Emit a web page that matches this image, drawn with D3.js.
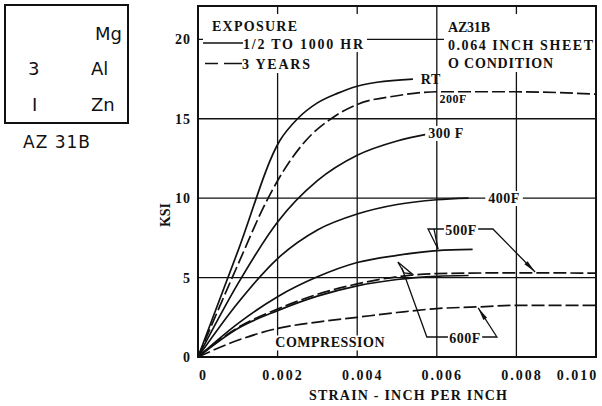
<!DOCTYPE html>
<html>
<head>
<meta charset="utf-8">
<script src="https://cdn.jsdelivr.net/npm/d3@7"></script>
<style>
body { margin: 0; background: #fff; }
text { fill: #111; }
</style>
</head>
<body>
<svg id="chart" width="602" height="406"></svg>
<script>
// stress-strain curves (strain in/in, stress ksi)
var rtStrain = [0, 0.001, 0.00205, 0.0025, 0.003, 0.0035, 0.004, 0.0045, 0.0054];
var rtKsi    = [0, 6.65, 13.6, 15.0, 16.0, 16.6, 17.05, 17.3, 17.5];
var f200Strain = [0, 0.001, 0.0017, 0.002, 0.0027, 0.0034, 0.004, 0.005, 0.006, 0.008, 0.010];
var f200Ksi    = [0, 5.8, 9.7, 11.1, 13.6, 15.1, 15.9, 16.45, 16.7, 16.7, 16.55];
var f300Strain = [0, 0.001, 0.002, 0.003, 0.004, 0.005, 0.0058];
var f300Ksi    = [0, 4.6, 8.5, 11.1, 12.7, 13.6, 14.05];
var f400Strain = [0, 0.001, 0.002, 0.003, 0.004, 0.005, 0.006, 0.0068];
var f400Ksi    = [0, 3.4, 6.2, 8.0, 9.0, 9.6, 9.9, 10.0];
var f500Strain = [0, 0.001, 0.002, 0.003, 0.004, 0.005, 0.006, 0.0069];
var f500Ksi    = [0, 2.1, 3.8, 5.05, 5.95, 6.4, 6.7, 6.78];
var f500yStrain = [0, 0.001, 0.002, 0.003, 0.004, 0.005, 0.006, 0.008, 0.010];
var f500yKsi    = [0, 1.85, 3.02, 3.95, 4.6, 5.05, 5.25, 5.3, 5.28];
var f600Strain = [0, 0.001, 0.002, 0.003, 0.004, 0.005, 0.006, 0.0068];
var f600Ksi    = [0, 1.8, 2.92, 3.83, 4.48, 4.88, 5.08, 5.13];
var f600yStrain = [0, 0.001, 0.002, 0.003, 0.004, 0.005, 0.006, 0.007, 0.008, 0.010];
var f600yKsi    = [0, 1.05, 1.8, 2.2, 2.5, 2.8, 3.05, 3.15, 3.25, 3.25];

var xTicks = [0, 0.002, 0.004, 0.006, 0.008, 0.010];
var yTicks = [0, 5, 10, 15, 20];

// labels for the curves, anchored in data units
var curveNames  = ["RT", "200F", "300 F", "400F", "500F", "600F", "COMPRESSION"];
var nameStrain  = [0.00585, 0.00641, 0.00623, 0.00769, 0.00661, 0.00671, 0.00332];
var nameKsi     = [17.47, 16.25, 14.1, 10.0, 8.0, 1.2, 0.91];

var series = [
  {x: rtStrain, y: rtKsi, dash: null},
  {x: f200Strain, y: f200Ksi, dash: "13,4"},
  {x: f300Strain, y: f300Ksi, dash: null},
  {x: f400Strain, y: f400Ksi, dash: null},
  {x: f500Strain, y: f500Ksi, dash: null},
  {x: f500yStrain, y: f500yKsi, dash: "13,4"},
  {x: f600Strain, y: f600Ksi, dash: null},
  {x: f600yStrain, y: f600yKsi, dash: "13,4"}
];

var svg = d3.select("#chart");
var serif = "'Liberation Serif', 'Times New Roman', serif";

//////////////////////
// alloy box at left
//////////////////////
svg.append("rect").attr("x", 5).attr("y", 5).attr("width", 123).attr("height", 118)
  .style("fill", "none").style("stroke", "#111").style("stroke-width", 2);
var boxText = [["Mg", 95, 40], ["3", 28, 75], ["Al", 91, 75], ["I", 32, 111], ["Zn", 91, 111]];
boxText.forEach(function(t) {
  svg.append("text").attr("x", t[1]).attr("y", t[2]).text(t[0])
    .style("font-family", "'DejaVu Sans', sans-serif").style("font-size", "18px");
});
svg.append("text").attr("x", 57).attr("y", 148).attr("text-anchor", "middle").text("AZ 31B")
  .style("font-family", "'DejaVu Sans', sans-serif").style("font-size", "17px").style("letter-spacing", "1px");

//////////////////////
// plot area
//////////////////////
var margin = {top: 6, left: 198},
    width = 398, height = 351;
var g = svg.append("g").attr("transform", "translate(" + margin.left + "," + margin.top + ")");

var x = d3.scaleLinear().domain([0, 0.010]).range([0, width]);
var y = d3.scaleLinear().domain([0, 22.1]).range([height, 0]);

// grid
g.selectAll(".vgrid").data(xTicks.slice(1, 5)).enter().append("line")
  .attr("x1", function(d) { return x(d); }).attr("x2", function(d) { return x(d); })
  .attr("y1", 0).attr("y2", height).style("stroke", "#111").style("stroke-width", 1.3);
g.selectAll(".hgrid").data(yTicks.slice(1)).enter().append("line")
  .attr("x1", 0).attr("x2", width)
  .attr("y1", function(d) { return y(d); }).attr("y2", function(d) { return y(d); })
  .style("stroke", "#111").style("stroke-width", 1.3);

// white patches behind the two text blocks at the top
g.append("rect").attr("x", 5).attr("y", 8).attr("width", 164).attr("height", 38).style("fill", "#fff");
g.append("rect").attr("x", 5).attr("y", 46).attr("width", 110).attr("height", 21).style("fill", "#fff");
g.append("rect").attr("x", 246).attr("y", 8).attr("width", 151).attr("height", 58).style("fill", "#fff");

// curves
var line = d3.line().x(function(d) { return x(d[0]); }).y(function(d) { return y(d[1]); })
  .curve(d3.curveMonotoneX);
series.forEach(function(s) {
  var pts = s.x.map(function(v, i) { return [v, s.y[i]]; });
  g.append("path").datum(pts).attr("d", line)
    .style("fill", "none").style("stroke", "#111").style("stroke-width", 1.7)
    .style("stroke-dasharray", s.dash);
});

// curve labels with white backing
curveNames.forEach(function(n, i) {
  var t = g.append("text").attr("x", x(nameStrain[i])).attr("y", y(nameKsi[i]))
    .attr("dy", "0.35em").attr("text-anchor", "middle").text(n)
    .style("font-family", serif).style("font-weight", "bold")
    .style("font-size", n == "200F" ? "12px" : "14px")
    .style("letter-spacing", n == "COMPRESSION" ? "0.5px" : "0.5px");
  if (n != "RT" && n != "200F") {
    var b = t.node().getBBox();
    g.insert("rect", function() { return t.node(); })
      .attr("x", b.x - 3).attr("y", b.y).attr("width", b.width + 6).attr("height", b.height)
      .style("fill", "#fff");
  }
});

// leader lines (data units)
var leaders = [
  {pts: [[0.00618, 8.06], [0.00578, 8.06], [0.00603, 6.80]], head: "none"},
  {pts: [[0.00593, 8.06], [0.00603, 6.80]], head: "none"},
  {pts: [[0.00704, 8.06], [0.00741, 8.06], [0.00847, 5.35]], head: "fill"},
  {pts: [[0.00628, 1.26], [0.00575, 1.26], [0.00512, 5.62]], head: "none"},
  {pts: [[0.00502, 5.98], [0.00538, 5.23], [0.00518, 5.29], [0.00502, 5.98]], head: "none"},
  {pts: [[0.00714, 1.26], [0.00751, 1.26], [0.00704, 3.09]], head: "fill"}
];
var plain = d3.line().x(function(d) { return x(d[0]); }).y(function(d) { return y(d[1]); });
leaders.forEach(function(l) {
  g.append("path").datum(l.pts).attr("d", plain)
    .style("fill", "none").style("stroke", "#111").style("stroke-width", 1.3);
  if (l.head == "fill") {
    var a = l.pts[l.pts.length - 2], b = l.pts[l.pts.length - 1];
    var tx = x(b[0]), ty = y(b[1]);
    var dx = tx - x(a[0]), dy = ty - y(a[1]);
    var len = Math.sqrt(dx * dx + dy * dy);
    var ux = dx / len, uy = dy / len;
    var bx = tx - ux * 13, by = ty - uy * 13;
    g.append("path")
      .attr("d", "M" + tx + "," + ty + "L" + (bx - uy * 2.2) + "," + (by + ux * 2.2) +
        "L" + (bx + uy * 2.2) + "," + (by - ux * 2.2) + "Z")
      .style("fill", "#111");
  }
});

// frame
g.append("rect").attr("width", width).attr("height", height)
  .style("fill", "none").style("stroke", "#111").style("stroke-width", 2);

// axes (labels only)
var yAxis = g.append("g").call(d3.axisLeft(y).tickValues(yTicks).tickSize(0).tickPadding(7));
yAxis.select(".domain").remove();
yAxis.selectAll("text").style("font-family", serif).style("font-weight", "bold")
  .style("font-size", "14px").style("letter-spacing", "1px").attr("fill", "#111");

var xAxis = g.append("g").attr("transform", "translate(0," + height + ")")
  .call(d3.axisBottom(x).tickValues(xTicks).tickSize(0).tickPadding(13)
    .tickFormat(function(d) { return d == 0 ? "0" : d3.format(".3f")(d); }));
xAxis.select(".domain").remove();
xAxis.selectAll("text").style("font-family", serif).style("font-weight", "bold")
  .style("font-size", "14px").style("letter-spacing", "2px").attr("fill", "#111")
  .attr("dx", function(d) { return d == 0.010 ? -19 : 5; });

// axis titles
svg.append("text").attr("x", 408).attr("y", 400).attr("text-anchor", "middle")
  .attr("textLength", 198).text("STRAIN - INCH PER INCH")
  .style("font-family", serif).style("font-weight", "bold").style("font-size", "14px");
svg.append("text").attr("transform", "translate(170,215) rotate(-90)").attr("text-anchor", "middle")
  .attr("textLength", 24).text("KSI")
  .style("font-family", serif).style("font-weight", "bold").style("font-size", "14px");

// legend and notes
var notes = [
  ["EXPOSURE", 212, 31, 85], ["1/2 TO 1000 HR", 243, 49, 120], ["3 YEARS", 242, 69, 68],
  ["AZ31B", 448, 32, 42], ["0.064 INCH SHEET", 448, 50, 145], ["O CONDITION", 448, 68, 105]
];
notes.forEach(function(n) {
  svg.append("text").attr("x", n[1]).attr("y", n[2]).attr("textLength", n[3]).text(n[0])
    .style("font-family", serif).style("font-weight", "bold").style("font-size", "14px");
});
svg.append("line").attr("x1", 203).attr("x2", 243).attr("y1", 43).attr("y2", 43)
  .style("stroke", "#111").style("stroke-width", 1.6);
svg.append("line").attr("x1", 205).attr("x2", 242).attr("y1", 63.5).attr("y2", 63.5)
  .style("stroke", "#111").style("stroke-width", 1.6).style("stroke-dasharray", "13,6,18");
</script>
</body>
</html>
